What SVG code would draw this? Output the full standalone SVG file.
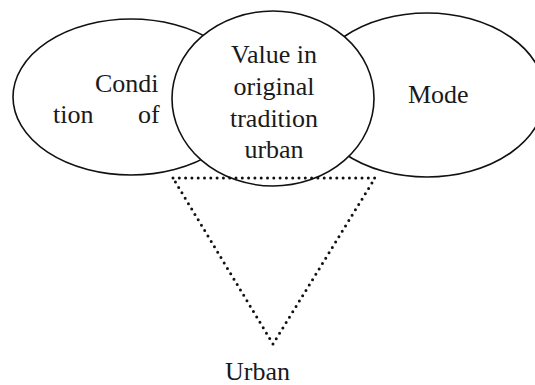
<svg xmlns="http://www.w3.org/2000/svg" width="535" height="385" viewBox="0 0 535 385">
<style>
.node{fill:#fff;stroke:#111;stroke-width:1.6}
.t{font-size:26px;fill:#1a1a1a}
.dot{fill:none;stroke:#111;stroke-width:3;stroke-linecap:round;stroke-dasharray:0 6.3;stroke-linejoin:round}
</style>
<rect width="535" height="385" fill="#fff"/>
<g font-family="Liberation Serif, Times New Roman, serif">
<g id="condition">
<ellipse class="node" cx="131" cy="97" rx="118" ry="78"/>
<text class="t" x="95" y="92">Condi</text>
<text class="t" y="123"><tspan x="53">tion</tspan><tspan x="138">of</tspan></text>
</g>
<g id="mode">
<ellipse class="node" cx="427" cy="95" rx="118" ry="82"/>
<text class="t" x="408" y="103">Mode</text>
</g>
<g id="value">
<ellipse class="node" cx="273" cy="98.5" rx="101" ry="87.5"/>
<text class="t" text-anchor="middle" x="274" y="63">Value in</text>
<text class="t" text-anchor="middle" x="274" y="95">original</text>
<text class="t" text-anchor="middle" x="274" y="127">tradition</text>
<text class="t" text-anchor="middle" x="274" y="158">urban</text>
</g>
<g id="connectors">
<path class="dot" d="M173 178 L375 178 L273 344 Z"/>
</g>
<g id="urban">
<text class="t" x="225" y="380">Urban</text>
</g>
</g>
</svg>
